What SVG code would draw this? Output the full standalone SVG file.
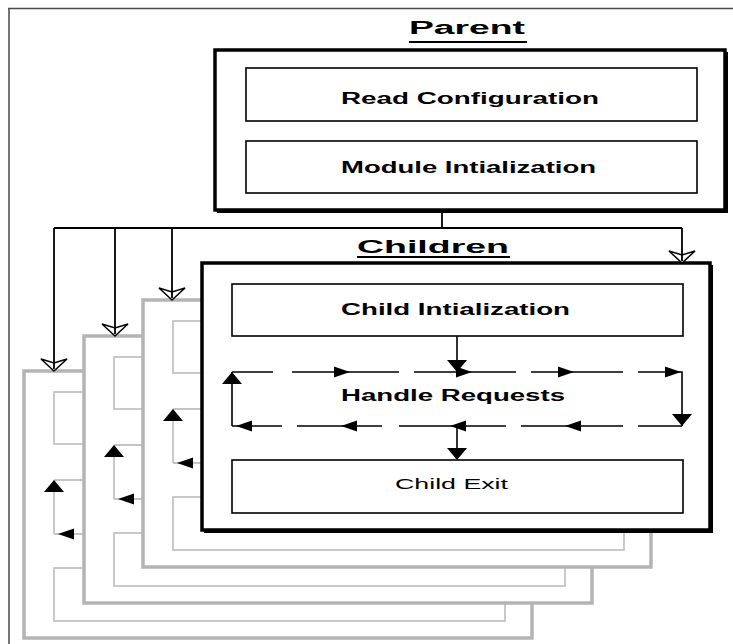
<svg xmlns="http://www.w3.org/2000/svg" xmlns:xlink="http://www.w3.org/1999/xlink" width="733" height="644" viewBox="0 0 733 644">
  <style>
    .frame { fill: #fff; stroke: #000; stroke-width: 3.5; }
    .shade { fill: none; stroke: #000; stroke-width: 2; }
    .step { fill: #fff; stroke: #000; stroke-width: 1.6; }
    .flow { fill: none; stroke: #000; stroke-width: 1.6; }
    .link { fill: none; stroke: #000; stroke-width: 1.8; }
    .ghost-frame { fill: #fff; stroke: #b4b4b4; stroke-width: 3.5; }
    .ghost { fill: none; stroke: #c4c4c4; stroke-width: 1.8; }
    .head { fill: #000; stroke: none; }
    .title { font-family: "Liberation Sans", Arial, sans-serif; font-weight: bold; font-size: 18px; fill: #000; }
    .label { font-family: "Liberation Sans", Arial, sans-serif; font-weight: bold; font-size: 16px; fill: #000; }
    .plain { font-family: "Liberation Sans", Arial, sans-serif; font-size: 15px; fill: #000; }
  </style>
  <defs>
    <!-- filled heads, tip at the origin -->
    <path id="head-right" d="M0,0 L-16,-5.5 L-16,5.5 Z"/>
    <path id="head-left" d="M0,0 L16,-5.5 L16,5.5 Z"/>
    <path id="head-down" d="M0,0 L-10,-12 L10,-12 Z"/>
    <path id="head-up" d="M0,0 L-10,12 L10,12 Z"/>
    <!-- open head for the fork lines -->
    <path id="head-open" d="M0,0 L-13,-12 L0,-8 L13,-12 Z" fill="#fff" stroke="#000" stroke-width="1.5"/>
    <!-- a child process drawn behind the active one -->
    <g id="child-back">
      <rect class="ghost-frame" x="0" y="0" width="508" height="267"/>
      <rect class="ghost" x="30" y="21" width="451" height="52"/>
      <path class="ghost" d="M30,109 H71 M90,109 H197 M30,163 H80 M95,163 H180 M30,163 V109"/>
      <rect class="ghost" x="30" y="197" width="451" height="53"/>
      <use href="#head-up" class="head" x="30" y="109"/>
      <use href="#head-left" class="head" x="34" y="163"/>
    </g>
  </defs>

  <!-- page edge -->
  <path d="M8,8.5 H733 M9,8 V644" fill="none" stroke="#4a4a4a" stroke-width="1.5"/>

  <!-- Parent process -->
  <g id="parent">
    <text class="title" x="409" y="34" textLength="116" lengthAdjust="spacingAndGlyphs">Parent</text>
    <line x1="409" y1="42" x2="527" y2="42" stroke="#000" stroke-width="2"/>
    <rect class="frame" x="215" y="50" width="510" height="160"/>
    <path class="shade" d="M727,52 V212 H217"/>
    <g id="read-config">
      <rect class="step" x="246" y="68" width="451" height="53"/>
      <text class="label" x="341" y="104" textLength="258" lengthAdjust="spacingAndGlyphs">Read Configuration</text>
    </g>
    <g id="module-init">
      <rect class="step" x="246" y="141" width="451" height="52"/>
      <text class="label" x="341" y="173" textLength="255" lengthAdjust="spacingAndGlyphs">Module Intialization</text>
    </g>
  </g>

  <!-- Children title -->
  <g id="children-title">
    <text class="title" x="357" y="253" textLength="152" lengthAdjust="spacingAndGlyphs">Children</text>
    <line x1="357" y1="257" x2="510" y2="257" stroke="#000" stroke-width="2"/>
  </g>

  <!-- stacked child processes, back to front -->
  <g id="child-1"><use href="#child-back" x="24" y="371"/></g>
  <g id="child-2"><use href="#child-back" x="84" y="336"/></g>
  <g id="child-3"><use href="#child-back" x="143" y="300"/></g>

  <!-- active child process -->
  <g id="child-front" transform="translate(202,263)">
    <rect class="frame" x="0" y="0" width="508" height="267" stroke-width="4"/>
    <path class="shade" d="M510,2 V269 H2"/>
    <g id="child-init">
      <rect class="step" x="30" y="21" width="451" height="52"/>
      <text class="label" x="139" y="52" textLength="229" lengthAdjust="spacingAndGlyphs">Child Intialization</text>
    </g>
    <g id="handle-requests">
      <path class="flow" d="M30,109 H71 M90,109 H197 M212,109 H314 M329,109 H421 M436,109 H480 V163"/>
      <path class="flow" d="M30,163 H80 M95,163 H180 M197,163 H304 M319,163 H421 M436,163 H480 M30,163 V109"/>
      <use href="#head-right" class="head" x="148" y="109"/>
      <use href="#head-right" class="head" x="270" y="109"/>
      <use href="#head-right" class="head" x="372" y="109"/>
      <use href="#head-right" class="head" x="479" y="109"/>
      <use href="#head-down" class="head" x="480" y="163"/>
      <use href="#head-left" class="head" x="363" y="163"/>
      <use href="#head-left" class="head" x="248" y="163"/>
      <use href="#head-left" class="head" x="139" y="163"/>
      <use href="#head-left" class="head" x="34" y="163"/>
      <use href="#head-up" class="head" x="30" y="109"/>
      <text class="label" x="139" y="138" textLength="224" lengthAdjust="spacingAndGlyphs">Handle Requests</text>
    </g>
    <g id="child-exit">
      <rect class="step" x="30" y="197" width="451" height="53"/>
      <text class="plain" x="193" y="226" textLength="113" lengthAdjust="spacingAndGlyphs">Child Exit</text>
    </g>
  </g>

  <!-- connectors -->
  <g id="connectors">
    <!-- fork from the parent to every child -->
    <path class="link" d="M442,211 V228 M54,228 H682 M54,228 V368 M115,228 V333 M172,228 V297 M682,228 V260"/>
    <use href="#head-open" x="54" y="371"/>
    <use href="#head-open" x="115" y="336"/>
    <use href="#head-open" x="172" y="300"/>
    <use href="#head-open" x="682" y="263"/>
    <path class="link" d="M54,362 V369 M115,327 V334 M172,291 V298 M682,254 V261"/>
    <!-- flow inside the active child -->
    <g transform="translate(202,263)">
      <path class="flow" d="M255,73 V100 M255,163 V188"/>
      <use href="#head-down" class="head" x="255" y="109"/>
      <use href="#head-down" class="head" x="255" y="197"/>
    </g>
  </g>
</svg>
